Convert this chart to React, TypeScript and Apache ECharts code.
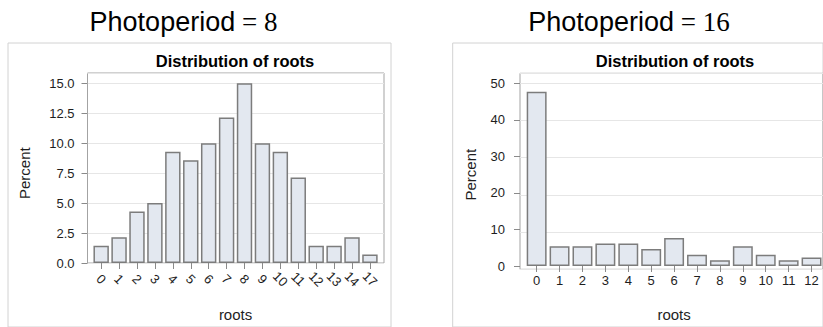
import React, { useEffect, useRef } from "react";
import * as echarts from "echarts";

const leftCategories = ["0", "1", "2", "3", "4", "5", "6", "7", "8", "9", "10", "11", "12", "13", "14", "17"];
const leftPercent = [1.43, 2.14, 4.29, 5.0, 9.29, 8.57, 10.0, 12.14, 15.0, 10.0, 9.29, 7.14, 1.43, 1.43, 2.14, 0.71];
const rightCategories = ["0", "1", "2", "3", "4", "5", "6", "7", "8", "9", "10", "11", "12"];
const rightPercent = [47.69, 5.38, 5.38, 6.15, 6.15, 4.62, 7.69, 3.08, 1.54, 5.38, 3.08, 1.54, 2.31];
const leftTitle = "Photoperiod";
const leftValue = " = 8";
const rightValue = " = 16";
const subTitle = "Distribution of roots";

const SANS = "'Liberation Sans', Arial, sans-serif";
const SERIF = "'Liberation Serif', 'Times New Roman', serif";
const BAR_FILL = "#e3e8f0";
const BAR_BORDER = "#7c7c7c";
const FRAME = "#a3a3a3";
const OUTER = "#d2d2d2";
const GRIDLINE = "#e6e6e6";
const TICK = "#8a8a8a";
const TEXT = "#1e1e1e";

const hiddenX = (g: number) => ({ gridIndex: g, type: "value", show: false });
const hiddenY = (g: number) => ({ gridIndex: g, type: "value", show: false });

export default function App() {
  const ref = useRef<HTMLDivElement>(null);
  useEffect(() => {
    if (!ref.current) return;
    const chart = echarts.init(ref.current, null, { renderer: "svg" });
    const labelStyle = { fontSize: 13, color: TEXT, fontFamily: SANS };
    const nameStyle = { fontSize: 15, color: TEXT, fontFamily: SANS };
    chart.setOption({
      animation: false,
      backgroundColor: "#ffffff",
      grid: [
        { left: 8, top: 43, right: 432, bottom: -20, show: true, borderColor: OUTER, borderWidth: 1, backgroundColor: "transparent" },
        { left: 87.5, top: 73, right: 439, bottom: 64, show: true, borderColor: FRAME, borderWidth: 1, backgroundColor: "transparent" },
        { left: 92.2, top: 83.3, width: 286.7, bottom: 64 },
        { left: 452.7, top: 43, right: -20, bottom: -20, show: true, borderColor: OUTER, borderWidth: 1, backgroundColor: "transparent" },
        { left: 520, top: 73.3, right: -5, bottom: 57.7, show: true, borderColor: FRAME, borderWidth: 1, backgroundColor: "transparent" },
        { left: 525.2, top: 83.3, right: 0, bottom: 57.7 },
      ],
      xAxis: [
        hiddenX(0),
        hiddenX(1),
        {
          gridIndex: 2,
          type: "category",
          data: leftCategories,
          boundaryGap: true,
          axisLine: { show: false },
          axisTick: { show: true, alignWithLabel: true, length: 6, lineStyle: { color: TICK } },
          axisLabel: { ...labelStyle, interval: 0, rotate: -45, align: "center", verticalAlign: "middle", margin: 16 },
          splitLine: { show: false },
          name: "roots",
          nameLocation: "middle",
          nameGap: 44,
          nameTextStyle: nameStyle,
        },
        hiddenX(3),
        hiddenX(4),
        {
          gridIndex: 5,
          type: "category",
          data: rightCategories,
          boundaryGap: true,
          axisLine: { show: false },
          axisTick: { show: true, alignWithLabel: true, length: 6, lineStyle: { color: TICK } },
          axisLabel: { ...labelStyle, interval: 0, margin: 8 },
          splitLine: { show: false },
          name: "roots",
          nameLocation: "middle",
          nameGap: 41,
          nameTextStyle: nameStyle,
        },
      ],
      yAxis: [
        hiddenY(0),
        {
          gridIndex: 1,
          type: "value",
          min: 0,
          max: 15.86,
          interval: 2.5,
          axisLine: { show: false },
          axisTick: { show: false },
          axisLabel: { show: false },
          splitLine: { show: true, lineStyle: { color: GRIDLINE, width: 1 } },
        },
        {
          gridIndex: 2,
          type: "value",
          min: 0,
          max: 15,
          interval: 2.5,
          offset: 4.7,
          axisLine: { show: false },
          axisTick: { show: true, length: 6, lineStyle: { color: TICK } },
          axisLabel: { ...labelStyle, margin: 13, formatter: (v: number) => v.toFixed(1) },
          splitLine: { show: false },
          name: "Percent",
          nameLocation: "middle",
          nameGap: 56,
          nameTextStyle: nameStyle,
        },
        hiddenY(3),
        {
          gridIndex: 4,
          type: "value",
          min: 0,
          max: 52.69,
          interval: 10,
          axisLine: { show: false },
          axisTick: { show: false },
          axisLabel: { show: false },
          splitLine: { show: true, lineStyle: { color: GRIDLINE, width: 1 } },
        },
        {
          gridIndex: 5,
          type: "value",
          min: 0,
          max: 50,
          interval: 10,
          offset: 5.2,
          axisLine: { show: false },
          axisTick: { show: true, length: 6, lineStyle: { color: TICK } },
          axisLabel: { ...labelStyle, margin: 15 },
          splitLine: { show: false },
          name: "Percent",
          nameLocation: "middle",
          nameGap: 42.5,
          nameTextStyle: nameStyle,
        },
      ],
      series: [
        {
          type: "bar",
          xAxisIndex: 2,
          yAxisIndex: 2,
          data: leftPercent,
          barWidth: "86%",
          itemStyle: { color: BAR_FILL, borderColor: BAR_BORDER, borderWidth: 1.5 },
        },
        {
          type: "bar",
          xAxisIndex: 5,
          yAxisIndex: 5,
          data: rightPercent,
          barWidth: "87%",
          itemStyle: { color: BAR_FILL, borderColor: BAR_BORDER, borderWidth: 1.5 },
        },
      ],
      graphic: [
        {
          type: "text",
          x: 183.5,
          y: 22,
          style: {
            text: "{a|" + leftTitle + "}{b|" + leftValue + "}",
            align: "center",
            verticalAlign: "middle",
            rich: {
              a: { fontSize: 27, fontFamily: SANS, fill: "#000" },
              b: { fontSize: 27, fontFamily: SERIF, fill: "#000" },
            },
          },
        },
        {
          type: "text",
          x: 629,
          y: 22,
          style: {
            text: "{a|" + leftTitle + "}{b|" + rightValue + "}",
            align: "center",
            verticalAlign: "middle",
            rich: {
              a: { fontSize: 27, fontFamily: SANS, fill: "#000" },
              b: { fontSize: 27, fontFamily: SERIF, fill: "#000" },
            },
          },
        },
        {
          type: "text",
          x: 235,
          y: 61,
          style: { text: subTitle, align: "center", verticalAlign: "middle", fontSize: 16.5, fontWeight: "bold", fontFamily: SANS, fill: "#000" },
        },
        {
          type: "text",
          x: 675,
          y: 61,
          style: { text: subTitle, align: "center", verticalAlign: "middle", fontSize: 16.5, fontWeight: "bold", fontFamily: SANS, fill: "#000" },
        },
      ],
    });
    return () => chart.dispose();
  }, []);
  return (
    <div
      ref={ref}
      style={{ position: "absolute", left: 0, top: 0, width: 823, height: 327, overflow: "hidden", background: "#fff" }}
    />
  );
}
